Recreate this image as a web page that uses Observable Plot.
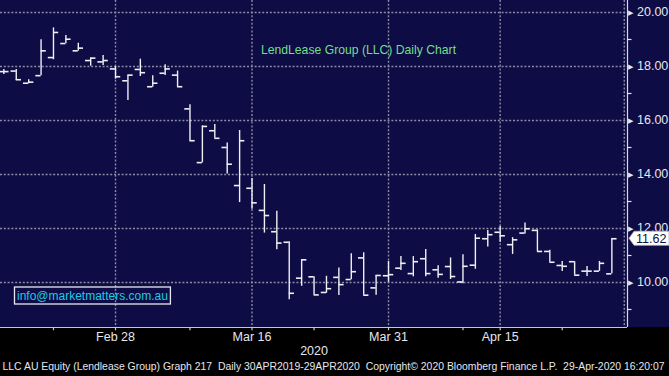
<!DOCTYPE html>
<html><head><meta charset="utf-8">
<script src="https://cdn.jsdelivr.net/npm/d3@7"></script>
<script src="https://cdn.jsdelivr.net/npm/@observablehq/plot@0.6"></script>
<style>html,body{margin:0;padding:0;background:#000;overflow:hidden}svg{display:block}</style>
</head><body><div id="chart"></div>
<script>
// ---- data ----
const tradingDays = ["2020-02-17","2020-02-18","2020-02-19","2020-02-20","2020-02-21","2020-02-24","2020-02-25","2020-02-26","2020-02-27","2020-02-28",
"2020-03-02","2020-03-03","2020-03-04","2020-03-05","2020-03-06","2020-03-09","2020-03-10","2020-03-11","2020-03-12","2020-03-13",
"2020-03-16","2020-03-17","2020-03-18","2020-03-19","2020-03-20","2020-03-23","2020-03-24","2020-03-25","2020-03-26","2020-03-27",
"2020-03-30","2020-03-31","2020-04-01","2020-04-02","2020-04-03","2020-04-06","2020-04-07","2020-04-08","2020-04-09","2020-04-14",
"2020-04-15","2020-04-16","2020-04-17","2020-04-20","2020-04-21","2020-04-22","2020-04-23","2020-04-24","2020-04-28","2020-04-29"];
const open  = [17.81,17.83,17.38,17.66,18.33,18.85,18.58,18.22,18.17,17.91,17.47,17.89,17.25,17.75,17.68,16.43,14.44,15.62,15.00,13.59,13.49,12.67,11.88,11.49,10.16,10.21,9.63,10.19,10.11,10.91,9.80,10.25,10.53,10.33,10.88,10.47,10.59,10.02,10.64,11.62,11.86,11.40,11.83,11.93,11.15,10.63,10.77,10.42,10.42,10.32];
const high  = [17.89,17.89,17.51,18.99,19.43,19.15,18.86,18.31,18.41,18.00,17.68,18.27,17.66,18.06,17.83,16.58,15.80,15.85,15.17,15.63,13.85,13.63,12.64,11.51,10.84,10.21,10.23,10.54,11.06,11.10,10.26,10.78,10.96,10.96,11.22,10.62,10.91,11.03,11.78,11.93,12.07,11.66,12.20,11.95,11.19,10.78,10.77,10.59,10.78,11.62];
const low   = [17.70,17.48,17.36,17.66,18.25,18.84,18.57,18.01,18.04,17.53,16.74,17.63,17.23,17.67,17.23,15.23,14.43,15.34,14.02,12.96,12.71,11.83,11.21,9.36,9.86,9.54,9.60,9.52,10.10,9.53,9.53,10.01,10.44,10.21,10.21,10.16,10.11,9.95,10.49,11.31,11.49,11.04,11.80,11.15,10.75,10.41,10.27,10.22,10.41,10.32];
const close = [17.81,17.51,17.42,18.58,19.26,19.01,18.68,18.31,18.22,17.62,17.68,17.77,17.38,17.91,17.25,15.25,15.78,15.34,14.38,15.25,12.95,12.48,11.46,9.60,10.84,9.54,9.77,9.92,10.40,9.53,10.26,10.29,10.71,10.77,10.33,10.30,10.22,10.60,11.64,11.77,11.73,11.58,11.99,11.15,10.75,10.60,10.27,10.42,10.71,11.62];
const xTickDates  = ["2020-02-28","2020-03-16","2020-03-31","2020-04-15"];
const xTickLabels = ["Feb 28","Mar 16","Mar 31","Apr 15"];
const xMinorDates = ["2020-02-21","2020-03-09","2020-03-23","2020-04-08","2020-04-22"];
const yearLabel = "2020", yearLabelDate = "2020-03-23";
const yMajor = [10,12,14,16,18,20];
const yMinor = [9,11,13,15,17,19];
const lastPrice = 11.62;
const title = "LendLease Group (LLC) Daily Chart";
const email = "info@marketmatters.com.au";
const footer = "LLC AU Equity (Lendlease Group) Graph 217  Daily 30APR2019-29APR2020  Copyright\u00A9 2020 Bloomberg Finance L.P.  29-Apr-2020 16:20:07";

// ---- build ----
const bars = tradingDays.map((d,i)=>({i, date:d, open:open[i], high:high[i], low:low[i], close:close[i]}));
const idx = d => { const k = tradingDays.indexOf(d); return k < 0 ? tradingDays.length : k; };
const gridX = [...xTickDates.map(idx), tradingDays.length];
const xDomain = [-0.27, 50.26], yDomain = [8.333, 20.444];
const NAVY = "#0e0c44", GRID = "#8b8ba6", BAR = "#f0f0f4", AX = "#e6e6ee";
const dotted = {stroke: GRID, strokeWidth: 1.4, strokeDasharray: "2,1.8"};

const chart = Plot.plot({
  width: 669, height: 376, marginTop: 0, marginLeft: 0, marginRight: 42, marginBottom: 49,
  style: {background: "#000", color: AX, fontFamily: "'Liberation Sans', Arial, sans-serif", fontSize: "12px", overflow: "visible"},
  x: {domain: xDomain, axis: null},
  y: {domain: yDomain, axis: null},
  marks: [
    Plot.rect([0], {x1: xDomain[0], x2: 53.7, y1: yDomain[0], y2: yDomain[1], fill: NAVY}),
    Plot.ruleY(yMajor, {y: d => d, ...dotted}),
    Plot.ruleX(gridX, {x: d => d, ...dotted}),
    Plot.ruleX([xDomain[1]], {x: d => d, stroke: "#d8d8e0", strokeWidth: 1.2}),
    Plot.ruleY([yDomain[0]], {y: d => d, stroke: "#c8c8c8", strokeWidth: 1.2}),
    // x ticks below axis
    Plot.ruleX([...xTickDates.map(idx), ...xMinorDates.map(idx)], {x: d => d, y1: yDomain[0], y2: yDomain[0] - 0.12, stroke: "#c8c8c8", strokeWidth: 1.2}),
    // OHLC bars
    Plot.ruleX(bars, {x: "i", y1: "low", y2: "high", stroke: BAR, strokeWidth: 1.4}),
    Plot.ruleY(bars, {y: "open", x1: d => d.i - 0.42, x2: "i", stroke: BAR, strokeWidth: 1.6}),
    Plot.ruleY(bars, {y: "close", x1: "i", x2: d => d.i + 0.42, stroke: BAR, strokeWidth: 1.6}),
    // y axis decorations
    Plot.ruleY(yMinor, {y: d => d, x1: xDomain[1], x2: xDomain[1] + 0.36, stroke: AX, strokeWidth: 1.2}),
    Plot.text(yMajor, {y: d => d, text: () => "\u25B6", frameAnchor: "right", textAnchor: "start", dx: 0, fill: AX, fontSize: 7}),
    Plot.text(yMajor, {y: d => d, text: d => d.toFixed(2), frameAnchor: "right", textAnchor: "start", dx: 9.5, fill: AX, fontSize: 12.5}),
    // x labels
    Plot.text(xTickDates, {x: idx, text: (d, i) => xTickLabels[i], frameAnchor: "bottom", dy: 13, fill: AX, fontSize: 12.5}),
    Plot.text([yearLabel], {x: () => idx(yearLabelDate), text: d => d, frameAnchor: "bottom", dy: 27, fill: AX, fontSize: 12.5}),
    Plot.text([footer], {text: d => d, frameAnchor: "bottom-left", textAnchor: "start", dx: 2, dy: 42, fill: AX, fontSize: 10.3}),
    // annotations
    Plot.text([title], {text: d => d, frameAnchor: "top-left", textAnchor: "middle", dx: 358, dy: 45, fill: "#72de8e", fontSize: 12.2}),
    Plot.text([email], {text: d => d, frameAnchor: "bottom-left", textAnchor: "start", dx: 16.5, dy: -28, fill: "#1ccbe4", fontSize: 12})
  ]
});
document.getElementById("chart").append(chart);

const svg = d3.select(chart);
// footer width fit
svg.selectAll("text").filter(function(){ return this.textContent === footer; })
  .attr("textLength", 662).attr("lengthAdjust", "spacingAndGlyphs");
// email box (drawn in the text's own coordinate space)
svg.selectAll("text").filter(function(){ return this.textContent === email; }).each(function(){
  const b = this.getBBox();
  const t = this.getAttribute("transform");
  const r = d3.select(this.parentNode).insert("rect", () => this)
    .attr("x", b.x - 2.5).attr("y", b.y - 1.5).attr("width", b.width + 5).attr("height", b.height + 3)
    .attr("fill", "none").attr("stroke", "#e8e8f0").attr("stroke-width", 1.3);
  if (t) r.attr("transform", t);
});
// last price label
const yy = chart.scale("y").apply(lastPrice);
const xx = chart.scale("x").apply(xDomain[1]);
const g = svg.append("g");
g.append("path").attr("d", `M${xx+2},${yy} L${xx+7},${yy-7} L669,${yy-7} L669,${yy+7} L${xx+7},${yy+7} Z`)
  .attr("fill", "#ffffff").attr("stroke", "#b0b0c0").attr("stroke-width", 0.8);
g.append("text").attr("x", xx + 9).attr("y", yy).attr("dy", "0.36em").attr("text-anchor", "start")
  .attr("fill", "#10103a").attr("font-size", 12.5).attr("font-family", "'Liberation Sans', Arial, sans-serif")
  .text(lastPrice.toFixed(2));
</script>
</body></html>
